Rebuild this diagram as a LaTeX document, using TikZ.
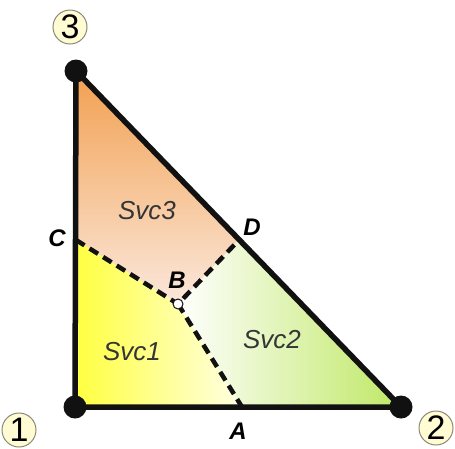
\documentclass[tikz,border=0pt]{standalone}
\usepackage{fontspec}
\setmainfont{Liberation Sans}
\usetikzlibrary{calc,positioning}
\definecolor{ink}{HTML}{111111}
\definecolor{svcorange}{HTML}{F2A050}
\definecolor{svcpeach}{HTML}{FBE8DC}
\definecolor{svcyellow}{HTML}{FFFF40}
\definecolor{svcpale}{HTML}{FFFFE4}
\definecolor{svcgreen}{HTML}{BFE865}
\definecolor{tagfill}{HTML}{FFFBD2}
\definecolor{tagline}{HTML}{8A8A7A}

\begin{document}
\begin{tikzpicture}[x=1pt,y=-1pt,
  edge/.style={line width=5.5pt,line join=round},
  border/.style={line width=4.5pt,dash pattern=on 10pt off 6pt},
  tag/.style={circle,draw=tagline,fill=tagfill,line width=1pt,minimum size=34pt,inner sep=0pt,font=\fontsize{34}{34}\selectfont},
  pt/.style={font=\fontsize{24}{24}\selectfont\bfseries\itshape},
  svc/.style={font=\fontsize{26}{26}\selectfont\itshape,text=ink!85}]
\useasboundingbox (0,0) rectangle (455,448);
\coordinate (V1) at (75,407);
\coordinate (V2) at (401,407);
\coordinate (V3) at (76,71);
\coordinate (C) at (76,240);
\coordinate (D) at (238,241);
\coordinate (B) at (178,304);
\coordinate (A) at (242,407);
% service areas
\shade[top color=svcorange,bottom color=svcpeach] (V3)--(C)--(B)--(D)--cycle;
\shade[left color=svcyellow,right color=svcpale] (V1)--(C)--(B)--(A)--cycle;
\shade[left color=white,right color=svcgreen] (B)--(D)--(V2)--(A)--cycle;
% borders between them
\draw[border,ink] (C)--(B)--(D);
\draw[border,ink] (B)--(A);
% triangle
\draw[edge,ink] (V1)--(V2)--(V3)--cycle;
\foreach \v in {V1,V2,V3}
  \fill[ink] (\v) circle (11.5);
\filldraw[fill=white,draw=ink,line width=1pt] (B) circle (5);
% labels
\node[pt] (lC) at (57,238) {C};
\node[pt] (lD) at (252,227) {D};
\node[pt] (lB) at (177,280) {B};
\node[pt] (lA) at (238,431) {A};
\node[svc] (s3) at (147,211) {Svc3};
\node[svc] (s1) at (132,352) {Svc1};
\node[svc] (s2) at (272,340) {Svc2};
\foreach \n/\x/\y in {3/70/27,1/19/430,2/436/428}
  \node[tag] (t\n) at (\x,\y) {\n};
\end{tikzpicture}
\end{document}
